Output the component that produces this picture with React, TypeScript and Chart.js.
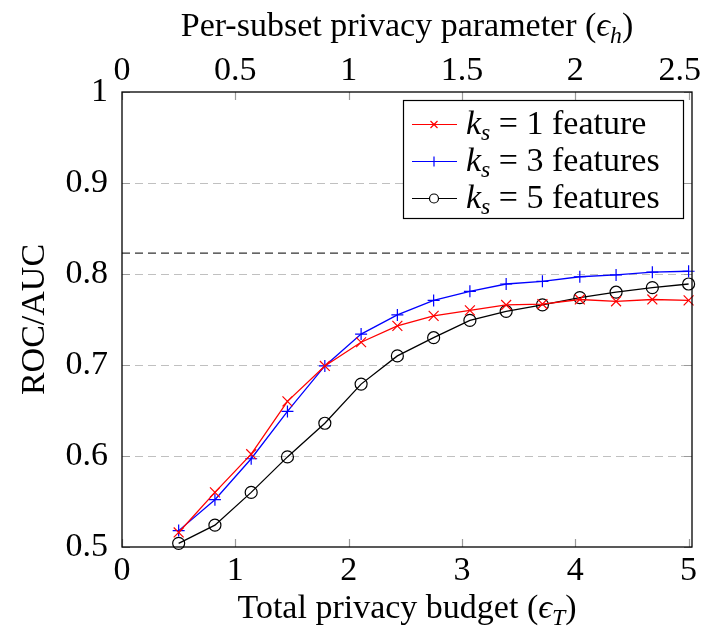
import React, { useEffect, useRef } from "react";
import { Chart, registerables } from "chart.js";

Chart.register(...registerables);

// ---- data ----
const xValues = [0.5, 0.82, 1.14, 1.46, 1.79, 2.11, 2.43, 2.75, 3.07, 3.39, 3.71, 4.04, 4.36, 4.68, 5.0];
const ks1 = [0.516, 0.56, 0.602, 0.66, 0.699, 0.725, 0.743, 0.754, 0.76, 0.766, 0.767, 0.772, 0.77, 0.772, 0.771];
const ks3 = [0.518, 0.552, 0.597, 0.649, 0.699, 0.734, 0.755, 0.771, 0.781, 0.789, 0.792, 0.797, 0.799, 0.802, 0.803];
const ks5 = [0.504, 0.524, 0.56, 0.599, 0.636, 0.679, 0.71, 0.73, 0.749, 0.759, 0.766, 0.774, 0.78, 0.785, 0.789];
const baselineValue = 0.823;
const bottomTicks = [0, 1, 2, 3, 4, 5];
const topTicks = [0, 0.5, 1, 1.5, 2, 2.5];
const yTicks = [0.5, 0.6, 0.7, 0.8, 0.9, 1];
const yGridValues = [0.6, 0.7, 0.8, 0.9];
const seriesLabels = ["1 feature", "3 features", "5 features"];

const X_MAX = 5.03;
const X2_MAX = 2.515;
const FAMILY = "'Liberation Serif', 'Times New Roman', serif";
const FS = 34;
const W = 694;
const H = 619;

type Seg = { t: string; it?: boolean; sub?: boolean };

function fontOf(size: number, it?: boolean) {
  return `${it ? "italic " : ""}${size}px ${FAMILY}`;
}
function richWidth(ctx: CanvasRenderingContext2D, segs: Seg[], size: number) {
  let w = 0;
  for (const s of segs) {
    ctx.font = fontOf(s.sub ? size * 0.7 : size, s.it);
    w += ctx.measureText(s.t).width;
  }
  return w;
}
function drawRich(ctx: CanvasRenderingContext2D, segs: Seg[], x: number, y: number, size: number) {
  let cx = x;
  for (const s of segs) {
    const sz = s.sub ? size * 0.7 : size;
    ctx.font = fontOf(sz, s.it);
    ctx.fillText(s.t, cx, s.sub ? y + size * 0.2 : y);
    cx += ctx.measureText(s.t).width;
  }
}

const customPlugin = {
  id: "pgfLook",
  beforeDatasetsDraw(chart: any) {
    const ctx = chart.ctx as CanvasRenderingContext2D;
    const { left, right, top, bottom } = chart.chartArea;
    const y = chart.scales.y;
    const x = chart.scales.x;
    const x2 = chart.scales.x2;
    ctx.save();
    // dashed grid
    ctx.strokeStyle = "#c0c0c0";
    ctx.lineWidth = 1.2;
    ctx.setLineDash([8, 5]);
    for (const v of yGridValues) {
      const py = Math.round(y.getPixelForValue(v)) + 0.5;
      ctx.beginPath();
      ctx.moveTo(left, py);
      ctx.lineTo(right, py);
      ctx.stroke();
    }
    ctx.setLineDash([]);
    // inward ticks
    ctx.strokeStyle = "#9a9a9a";
    ctx.lineWidth = 1.2;
    const TL = 8;
    for (const v of bottomTicks) {
      const px = Math.round(x.getPixelForValue(v)) + 0.5;
      ctx.beginPath();
      ctx.moveTo(px, bottom);
      ctx.lineTo(px, bottom - TL);
      ctx.stroke();
    }
    for (const v of topTicks) {
      const px = Math.round(x2.getPixelForValue(v)) + 0.5;
      ctx.beginPath();
      ctx.moveTo(px, top);
      ctx.lineTo(px, top + TL);
      ctx.stroke();
    }
    for (const v of yTicks) {
      const py = Math.round(y.getPixelForValue(v)) + 0.5;
      ctx.beginPath();
      ctx.moveTo(left, py);
      ctx.lineTo(left + TL, py);
      ctx.moveTo(right, py);
      ctx.lineTo(right - TL, py);
      ctx.stroke();
    }
    ctx.restore();
  },
  afterDraw(chart: any) {
    const ctx = chart.ctx as CanvasRenderingContext2D;
    const { left, right, top, bottom } = chart.chartArea;
    const x2 = chart.scales.x2;
    ctx.save();
    // frame
    ctx.strokeStyle = "#000";
    ctx.lineWidth = 1.3;
    ctx.strokeRect(left, top, right - left, bottom - top);

    ctx.fillStyle = "#000";
    ctx.textBaseline = "alphabetic";
    ctx.textAlign = "left";

    // top axis tick labels (kept inside the visible canvas)
    ctx.font = fontOf(FS);
    for (const v of topTicks) {
      const label = String(v);
      const w = ctx.measureText(label).width;
      let cx = x2.getPixelForValue(v);
      cx = Math.min(cx, W - 1 - w / 2);
      ctx.fillText(label, cx - w / 2, 72);
    }

    // top title
    const topSegs: Seg[] = [
      { t: "Per-subset privacy parameter (" },
      { t: "\u03F5", it: true },
      { t: "h", it: true, sub: true },
      { t: ")" },
    ];
    const tw = richWidth(ctx, topSegs, FS);
    drawRich(ctx, topSegs, (left + right) / 2 - tw / 2, 28, FS);
    // bottom title
    const botSegs: Seg[] = [
      { t: "Total privacy budget (" },
      { t: "\u03F5", it: true },
      { t: "T", it: true, sub: true },
      { t: ")" },
    ];
    const bw = richWidth(ctx, botSegs, FS);
    drawRich(ctx, botSegs, (left + right) / 2 - bw / 2, 610, FS);
    // y title
    ctx.save();
    ctx.translate(36, (top + bottom) / 2);
    ctx.rotate(-Math.PI / 2);
    ctx.font = fontOf(FS);
    ctx.textAlign = "center";
    ctx.fillText("ROC/AUC", 0, 0);
    ctx.restore();

    // legend
    const lx = 395, ly = 92, lw = 280, lh = 118;
    ctx.fillStyle = "#fff";
    ctx.fillRect(lx, ly, lw, lh);
    ctx.strokeStyle = "#000";
    ctx.lineWidth = 1.2;
    ctx.strokeRect(lx + 0.5, ly + 0.5, lw, lh);
    const colors = ["#ff0000", "#0000ff", "#000000"];
    const lineYs = [116.5, 153.5, 190.5];
    for (let i = 0; i < 3; i++) {
      const yy = lineYs[i];
      ctx.strokeStyle = colors[i];
      ctx.lineWidth = 1.2;
      ctx.beginPath();
      ctx.moveTo(404, yy);
      ctx.lineTo(449, yy);
      ctx.stroke();
      const mx = 426;
      ctx.beginPath();
      if (i === 0) {
        const r = 3.5;
        ctx.moveTo(mx - r, yy - r);
        ctx.lineTo(mx + r, yy + r);
        ctx.moveTo(mx - r, yy + r);
        ctx.lineTo(mx + r, yy - r);
        ctx.stroke();
      } else if (i === 1) {
        const r = 5;
        ctx.moveTo(mx - r, yy);
        ctx.lineTo(mx + r, yy);
        ctx.moveTo(mx, yy - r);
        ctx.lineTo(mx, yy + r);
        ctx.stroke();
      } else {
        ctx.fillStyle = "#fff";
        ctx.arc(mx, yy, 4.5, 0, Math.PI * 2);
        ctx.fill();
        ctx.stroke();
      }
      ctx.fillStyle = "#000";
      const segs: Seg[] = [
        { t: "k", it: true },
        { t: "s", it: true, sub: true },
        { t: " = " },
        { t: seriesLabels[i] },
      ];
      drawRich(ctx, segs, 458, yy + 9, FS);
    }
    ctx.restore();
  },
};

const tickFont = { family: FAMILY, size: FS };

export default function App() {
  const ref = useRef<HTMLCanvasElement | null>(null);
  useEffect(() => {
    if (!ref.current) return;
    const toPts = (ys: number[]) => xValues.map((x, i) => ({ x, y: ys[i] }));
    const chart = new Chart(ref.current, {
      type: "line",
      data: {
        datasets: [
          {
            label: "baseline",
            data: [
              { x: 0, y: baselineValue },
              { x: X_MAX, y: baselineValue },
            ],
            borderColor: "#333333",
            borderDash: [8, 5],
            borderWidth: 1.2,
            pointRadius: 0,
          },
          {
            label: "k_s = 1 feature",
            data: toPts(ks1),
            borderColor: "#ff0000",
            borderWidth: 1.3,
            pointStyle: "crossRot",
            pointRadius: 7,
            pointBorderColor: "#ff0000",
            pointBorderWidth: 1.2,
            clip: false,
          },
          {
            label: "k_s = 3 features",
            data: toPts(ks3),
            borderColor: "#0000ff",
            borderWidth: 1.3,
            pointStyle: "cross",
            pointRadius: 6,
            pointBorderColor: "#0000ff",
            pointBorderWidth: 1.2,
            clip: false,
          },
          {
            label: "k_s = 5 features",
            data: toPts(ks5),
            borderColor: "#000000",
            borderWidth: 1.3,
            pointStyle: "circle",
            pointRadius: 6,
            pointBorderColor: "#000000",
            pointBackgroundColor: "rgba(255,255,255,0)",
            pointBorderWidth: 1.2,
            clip: false,
          },
        ],
      },
      options: {
        animation: false,
        responsive: false,
        maintainAspectRatio: false,
        layout: { padding: { left: 0, right: 10, top: 0, bottom: 0 } },
        plugins: { legend: { display: false }, tooltip: { enabled: false } },
        scales: {
          x: {
            type: "linear",
            position: "bottom",
            min: 0,
            max: X_MAX,
            afterBuildTicks: (s: any) => {
              s.ticks = bottomTicks.map((v) => ({ value: v }));
            },
            afterFit: (s: any) => {
              s.height = 80;
              s.paddingLeft = 0;
              s.paddingRight = 0;
            },
            grid: { display: false, drawTicks: false },
            border: { display: false },
            ticks: { font: tickFont, color: "#000", padding: 4, maxRotation: 0, autoSkip: false, callback: (v: any) => String(v) },
          },
          x2: {
            type: "linear",
            position: "top",
            min: 0,
            max: X2_MAX,
            afterBuildTicks: (s: any) => {
              s.ticks = topTicks.map((v) => ({ value: v }));
            },
            afterFit: (s: any) => {
              s.height = 84;
              s.paddingLeft = 0;
              s.paddingRight = 0;
            },
            grid: { display: false, drawTicks: false },
            border: { display: false },
            ticks: { display: false },
          },
          y: {
            type: "linear",
            position: "left",
            min: 0.5,
            max: 1,
            afterBuildTicks: (s: any) => {
              s.ticks = yTicks.map((v) => ({ value: v }));
            },
            afterFit: (s: any) => {
              s.width = 114;
              s.paddingTop = 0;
              s.paddingBottom = 0;
            },
            grid: { display: false, drawTicks: false },
            border: { display: false },
            ticks: {
              font: tickFont,
              color: "#000",
              padding: 14,
              autoSkip: false,
              callback: (v: any) => (v === 1 ? "1" : Number(v).toFixed(1)),
            },
          },
        },
      },
      plugins: [customPlugin],
    } as any);
    return () => chart.destroy();
  }, []);
  return (
    <div style={{ width: W, height: H }}>
      <canvas ref={ref} width={W} height={H} style={{ width: W, height: H, display: "block" }} />
    </div>
  );
}
